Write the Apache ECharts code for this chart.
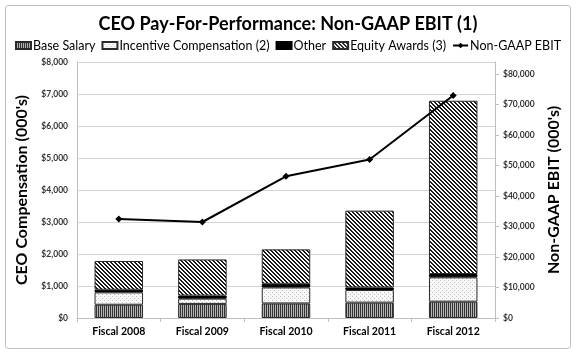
<!DOCTYPE html>
<html><head><meta charset="utf-8">
<script src="https://cdn.jsdelivr.net/npm/echarts@6/dist/echarts.min.js"></script>
<style>html,body{margin:0;padding:0;background:#fff}#c{width:576px;height:353px}</style>
</head><body><div id="c"></div>
<script>
const categories = ['Fiscal 2008','Fiscal 2009','Fiscal 2010','Fiscal 2011','Fiscal 2012'];
const baseSalary = [415, 440, 455, 480, 510];
const incentive = [385, 165, 500, 395, 760];
const other = [84, 95, 115, 80, 105];
const equity = [897, 1130, 1075, 2400, 5415];
const ebit = [32500, 31500, 46500, 52000, 73000];
const leftTicks = [0,1000,2000,3000,4000,5000,6000,7000,8000];
const rightTicks = [0,10000,20000,30000,40000,50000,60000,70000,80000];

function pat(w,h,draw){const c=document.createElement('canvas');c.width=w;c.height=h;const g=c.getContext('2d');draw(g);return {image:c,repeat:'repeat'};}
const baseFill = pat(2,1,g=>{g.fillStyle='#b4b4b4';g.fillRect(0,0,2,1);g.fillStyle='#333';g.fillRect(0,0,1,1);});
const incFill = pat(4,4,g=>{g.fillStyle='#f8f8f8';g.fillRect(0,0,4,4);g.fillStyle='#c0c0c0';g.fillRect(0,0,1,1);g.fillRect(2,2,1,1);});
const eqFill = pat(4,4,g=>{g.fillStyle='#ffffff';g.fillRect(0,0,4,4);g.fillStyle='#1a1a1a';for(let i=0;i<4;i++){g.fillRect(i,i,1,1);g.fillRect((i+1)%4,i,1,1);}});

const FONT = 'Lato';
const chart = echarts.init(document.getElementById('c'));
const fmt = v => '$' + v.toLocaleString('en-US');
const barStyle = f => ({color:f, borderColor:'#2a2a2a', borderWidth:1});
chart.setOption({
  animation:false,
  textStyle:{fontFamily:FONT},
  graphic:[{type:'rect',shape:{x:5.5,y:5.5,width:565,height:343,r:3},style:{fill:'none',stroke:'#bfbfbf',lineWidth:1},z:-1}],
  title:{text:'CEO Pay-For-Performance: Non-GAAP EBIT (1)',left:'center',top:10,textStyle:{fontFamily:FONT,fontSize:18,fontWeight:'bold',color:'#000'}},
  legend:{top:34,left:'center',itemWidth:15,itemHeight:7,itemGap:6,textStyle:{fontFamily:FONT,fontSize:12.5,color:'#000',padding:[0,0,0,-3]},
    data:[{name:'Base Salary',icon:'rect'},{name:'Incentive Compensation (2)',icon:'rect'},{name:'Other',icon:'rect'},{name:'Equity Awards (3)',icon:'rect'},'Non-GAAP EBIT']},
  grid:{left:77,right:81,top:62,bottom:35},
  xAxis:{type:'category',data:categories,
    axisLine:{lineStyle:{color:'#bfbfbf'}},
    axisTick:{show:true,length:4,lineStyle:{color:'#bfbfbf'}},
    axisLabel:{fontFamily:FONT,fontSize:10.5,fontWeight:'bold',color:'#000',margin:8}},
  yAxis:[
    {type:'value',min:0,max:8000,interval:1000,position:'left',
     name:"CEO Compensation (000's)",nameLocation:'middle',nameGap:47,
     nameTextStyle:{fontFamily:FONT,fontSize:16,fontWeight:'bold',color:'#000'},
     axisLine:{show:true,lineStyle:{color:'#bfbfbf'}},axisTick:{show:false},
     splitLine:{lineStyle:{color:'#d4d4d4'}},
     axisLabel:{formatter:fmt,fontFamily:FONT,fontSize:8.5,fontWeight:'bold',color:'#333',margin:9}},
    {type:'value',min:0,max:84000,interval:10000,position:'right',
     name:"Non-GAAP EBIT (000's)",nameLocation:'middle',nameGap:48,nameRotate:90,
     nameTextStyle:{fontFamily:FONT,fontSize:16,fontWeight:'bold',color:'#000'},
     axisLine:{show:true,lineStyle:{color:'#bfbfbf'}},
     axisTick:{show:true,length:4,lineStyle:{color:'#bfbfbf'}},
     splitLine:{show:false},
     axisLabel:{formatter:fmt,fontFamily:FONT,fontSize:8.5,fontWeight:'bold',color:'#333',margin:8,showMaxLabel:false}}
  ],
  series:[
    {name:'Base Salary',type:'bar',stack:'c',data:baseSalary,barCategoryGap:'42%',itemStyle:barStyle(baseFill)},
    {name:'Incentive Compensation (2)',type:'bar',stack:'c',data:incentive,itemStyle:barStyle(incFill)},
    {name:'Other',type:'bar',stack:'c',data:other,itemStyle:{color:'#000',borderColor:'#000',borderWidth:1}},
    {name:'Equity Awards (3)',type:'bar',stack:'c',data:equity,itemStyle:barStyle(eqFill)},
    {name:'Non-GAAP EBIT',type:'line',yAxisIndex:1,data:ebit,symbol:'diamond',symbolSize:7,z:5,
     lineStyle:{color:'#000',width:2},itemStyle:{color:'#000'}}
  ]
});
</script></body></html>
